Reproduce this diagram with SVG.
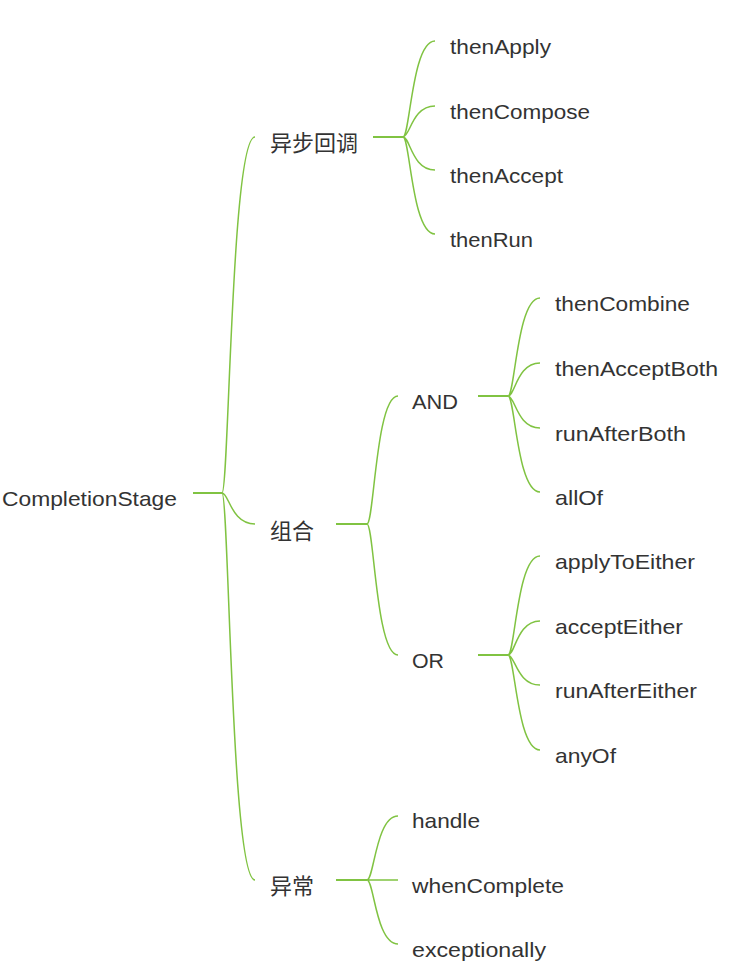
<svg xmlns="http://www.w3.org/2000/svg" width="742" height="968" viewBox="0 0 742 968">
<style>
.t{font-family:"Liberation Sans",Arial,sans-serif;font-size:21px;fill:#333;}
.c{font-family:"Noto Sans CJK SC","Liberation Sans",sans-serif;font-size:22px;fill:#333;}
.cv{fill:none;stroke:#80c342;stroke-width:1.5;}
.hl{fill:none;stroke:#80c342;stroke-width:2.2;}
</style>
<rect width="742" height="968" fill="#fff"/>
<g id="connectors">
<path class="hl" d="M193 493H222M373 137H403M336 524H367M478 396H508M478 655H508M336 880H367"/>
<path class="cv" d="M222 493C229 493 231 137 255 137M222 493C229 493 231 524 255 524M222 493C229 493 231 880 255 880"/>
<path class="cv" d="M403 137C410 137 412 41 435 41M403 137C410 137 412 106 435 106M403 137C410 137 412 170 435 170M403 137C410 137 412 234 435 234"/>
<path class="cv" d="M367 524C374 524 376 396 398 396M367 524C374 524 376 655 398 655"/>
<path class="cv" d="M508 396C515 396 517 298 540 298M508 396C515 396 517 363 540 363M508 396C515 396 517 428 540 428M508 396C515 396 517 492 540 492"/>
<path class="cv" d="M508 655C515 655 517 556 540 556M508 655C515 655 517 621 540 621M508 655C515 655 517 685 540 685M508 655C515 655 517 750 540 750"/>
<path class="cv" d="M367 880C374 880 376 816 398 816M367 880H398M367 880C374 880 376 944 398 944"/>
</g>
<g id="root"><text class="t" x="2" y="506" textLength="175" lengthAdjust="spacingAndGlyphs">CompletionStage</text></g>
<g id="async"><text class="c" x="270" y="151">异步回调</text></g>
<g id="combine"><text class="c" x="270" y="539">组合</text></g>
<g id="exception"><text class="c" x="270" y="894">异常</text></g>
<g id="thenApply"><text class="t" x="450" y="54" textLength="101" lengthAdjust="spacingAndGlyphs">thenApply</text></g>
<g id="thenCompose"><text class="t" x="450" y="119" textLength="140" lengthAdjust="spacingAndGlyphs">thenCompose</text></g>
<g id="thenAccept"><text class="t" x="450" y="183" textLength="113" lengthAdjust="spacingAndGlyphs">thenAccept</text></g>
<g id="thenRun"><text class="t" x="450" y="247" textLength="83" lengthAdjust="spacingAndGlyphs">thenRun</text></g>
<g id="and"><text class="t" x="412" y="409" textLength="46" lengthAdjust="spacingAndGlyphs">AND</text></g>
<g id="or"><text class="t" x="412" y="668" textLength="32" lengthAdjust="spacingAndGlyphs">OR</text></g>
<g id="thenCombine"><text class="t" x="555" y="311" textLength="135" lengthAdjust="spacingAndGlyphs">thenCombine</text></g>
<g id="thenAcceptBoth"><text class="t" x="555" y="376" textLength="163" lengthAdjust="spacingAndGlyphs">thenAcceptBoth</text></g>
<g id="runAfterBoth"><text class="t" x="555" y="441" textLength="131" lengthAdjust="spacingAndGlyphs">runAfterBoth</text></g>
<g id="allOf"><text class="t" x="555" y="505" textLength="48" lengthAdjust="spacingAndGlyphs">allOf</text></g>
<g id="applyToEither"><text class="t" x="555" y="569" textLength="140" lengthAdjust="spacingAndGlyphs">applyToEither</text></g>
<g id="acceptEither"><text class="t" x="555" y="634" textLength="128" lengthAdjust="spacingAndGlyphs">acceptEither</text></g>
<g id="runAfterEither"><text class="t" x="555" y="698" textLength="142" lengthAdjust="spacingAndGlyphs">runAfterEither</text></g>
<g id="anyOf"><text class="t" x="555" y="763" textLength="61" lengthAdjust="spacingAndGlyphs">anyOf</text></g>
<g id="handle"><text class="t" x="412" y="828" textLength="68" lengthAdjust="spacingAndGlyphs">handle</text></g>
<g id="whenComplete"><text class="t" x="412" y="893" textLength="152" lengthAdjust="spacingAndGlyphs">whenComplete</text></g>
<g id="exceptionally"><text class="t" x="412" y="957" textLength="134" lengthAdjust="spacingAndGlyphs">exceptionally</text></g>
</svg>
